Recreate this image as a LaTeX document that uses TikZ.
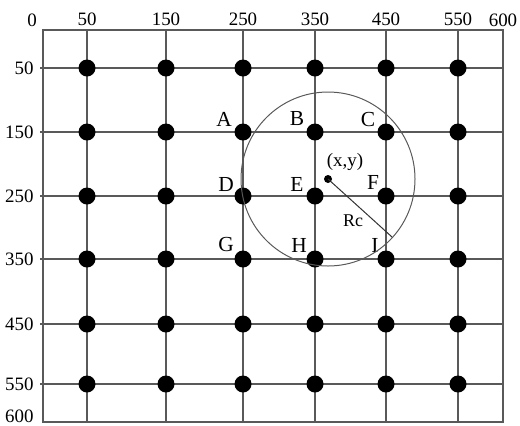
\documentclass[tikz,border=0pt]{standalone}
\usepackage{fontspec}
\setmainfont{Liberation Serif}
\usetikzlibrary{positioning}

\begin{document}
\begin{tikzpicture}[x=1bp, y=-1bp, font=\fontsize{19}{21}\selectfont,
  grid/.style={draw=black!65, line width=1.2bp},
  dot/.style={circle, fill=black, inner sep=0pt, minimum size=17bp},
  lbl/.style={inner sep=0pt, font=\fontsize{21.5}{23}\selectfont}]

\useasboundingbox (0,0) rectangle (520,425);

% frame of the 600 x 600 field
\draw[grid] (43,30) rectangle (503,422);
\node[anchor=base] (top-0) at (32,26) {0};
\node[anchor=base] (top-600) at (503,26) {600};
\node[anchor=base east] (left-600) at (37,422) {600};

% grid lines with their positions
\foreach \x/\v in {87/50, 166/150, 243/250, 315/350, 386/450, 458/550}{
  \draw[grid] (\x,30) -- (\x,422);
  \node[anchor=base] (top-\v) at (\x,25) {\v};
}
\foreach \y/\v in {68/50, 132/150, 196/250, 259/350, 324/450, 384/550}{
  \draw[grid] (40,\y) -- (503,\y);
  \node[anchor=east] (left-\v) at (37,\y) {\v};
}

% sensor nodes
\foreach \x [count=\i] in {87, 166, 243, 315, 386, 458}
  \foreach \y [count=\j] in {68, 132, 196, 259, 324, 384}
    \node[dot] (p\i\j) at (\x,\y) {};

% neighbours of the cluster
\node[lbl] (A) at (224,119) {A};
\node[lbl] (B) at (297,119) {B};
\node[lbl] (C) at (368,120) {C};
\node[lbl] (D) at (226,184) {D};
\node[lbl] (E) at (297,184) {E};
\node[lbl] (F) at (373,182) {F};
\node[lbl] (G) at (226,245) {G};
\node[lbl] (H) at (299,245) {H};
\node[lbl] (I) at (375,245) {I};

% coverage circle around (x,y)
\node[circle, fill=black, inner sep=0pt, minimum size=8bp] (c) at (328,179) {};
\node[inner sep=0pt, font=\fontsize{19}{21}\selectfont] (cxy) at (345,162) {(x,y)};
\draw[draw=black!65, line width=1bp] (c.center) circle[radius=87];
\coordinate (rim) at (392,237);
\draw[draw=black!80, line width=1bp] (c.center) -- (rim);
\node[inner sep=0pt, font=\fontsize{18}{20}\selectfont] (rc) at (353,221) {Rc};

\end{tikzpicture}
\end{document}
